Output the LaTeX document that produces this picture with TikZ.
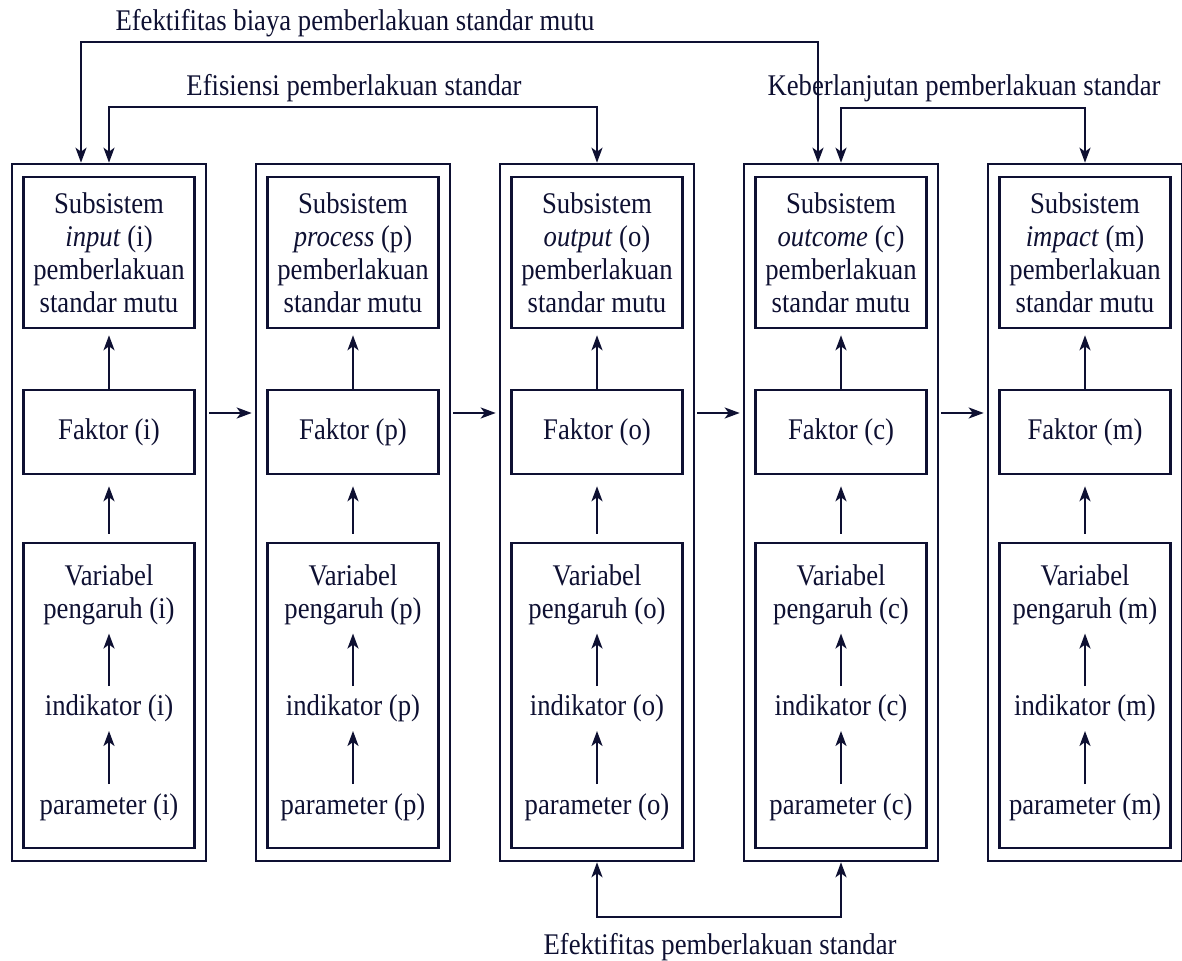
\documentclass[tikz,border=0pt]{standalone}
\usepackage{fontspec}
\setmainfont{Liberation Serif}[FakeStretch=0.89]
\usetikzlibrary{arrows.meta,positioning}
\definecolor{navy}{RGB}{14,16,50}
\begin{document}
\begin{tikzpicture}[x=0.5pt, y=-0.5pt,
		every node/.style={font=\fontsize{15}{16.5}\selectfont, text=navy},
		outer/.style={draw=navy, line width=1.3pt, minimum width=97pt, minimum height=348.5pt, inner sep=0pt},
		subbox/.style={draw=navy, line width=1.3pt, minimum width=85.5pt, minimum height=75.5pt, align=center, inner sep=0pt},
		fbox/.style={draw=navy, line width=1.3pt, minimum width=85.5pt, minimum height=42pt, inner sep=0pt},
		vbox/.style={draw=navy, line width=1.3pt, minimum width=85.5pt, minimum height=152.5pt, inner sep=0pt},
		lbl/.style={inner sep=0pt, align=center},
		arr/.style={draw=navy, line width=1.1pt, -{Stealth[length=7.5pt,width=5.5pt,inset=2pt]}},
		arr2/.style={draw=navy, line width=1.1pt, {Stealth[length=7.5pt,width=5.5pt,inset=2pt]}-{Stealth[length=7.5pt,width=5.5pt,inset=2pt]}}]
			\useasboundingbox (0,0) rectangle (1182,961);
			\foreach \i/\x/\w/\c in {1/109/input/i, 2/353/process/p, 3/597/output/o, 4/841/outcome/c, 5/1085/impact/m}{
			  \node[outer] (o\i) at (\x,512.5) {};
			  \node[subbox] (s\i) at (\x,252.5) {Subsistem\\\textit{\w} (\c)\\pemberlakuan\\standar mutu};
			  \node[fbox] (f\i) at (\x,432) {Faktor (\c)};
			  \node[vbox] (v\i) at (\x,695.5) {};
			  \node[lbl] (va\i) at (\x,595) {Variabel\\pengaruh (\c)};
			  \node[lbl] (in\i) at (\x,708) {indikator (\c)};
			  \node[lbl] (pa\i) at (\x,807) {parameter (\c)};
			  \draw[arr, shorten >=3pt] (f\i) -- (s\i);
			  \draw[arr, shorten <=4pt, shorten >=5.5pt] (v\i) -- (f\i);
			  \draw[arr, shorten <=4pt, shorten >=4pt] (in\i) -- (va\i);
			  \draw[arr, shorten <=4.5pt, shorten >=4.5pt] (pa\i) -- (in\i);
			}
			\foreach \i/\j in {1/2, 2/3, 3/4, 4/5}{
			  \draw[arr, shorten <=1pt, shorten >=1.5pt] ([yshift=49.75pt]o\i.east) -- ([yshift=49.75pt]o\j.west);
			}
			\draw[arr2] ([xshift=-14pt]o1.north) -- ++(0,-121) -| ([xshift=-11.5pt]o4.north);
			\draw[arr2] (o1.north) -- ++(0,-56) -| (o3.north);
			\draw[arr2] (o4.north) -- ++(0,-55) -| (o5.north);
			\draw[arr2] (o3.south) -- ++(0,55) -| (o4.south);
			\node[lbl] (t1) at (355,23) {Efektifitas biaya pemberlakuan standar mutu};
			\node[lbl] (t2) at (354,88) {Efisiensi pemberlakuan standar};
			\node[lbl] (t3) at (964,88) {Keberlanjutan pemberlakuan standar};
			\node[lbl] (t4) at (720,947) {Efektifitas pemberlakuan standar};
		\end{tikzpicture}
\end{document}
